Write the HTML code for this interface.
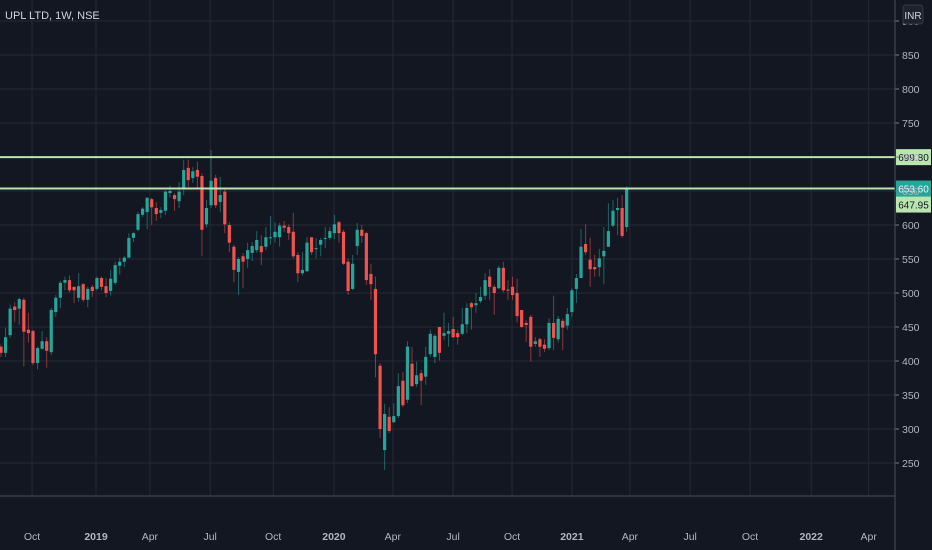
<!DOCTYPE html>
<html><head><meta charset="utf-8"><style>
html,body{margin:0;padding:0;background:#131722;}
svg{display:block;font-family:"Liberation Sans",sans-serif;}
</style></head><body>
<svg id="chart" width="932" height="550" xmlns="http://www.w3.org/2000/svg">
<rect x="0" y="0" width="932" height="550" fill="#131722"/>
<g id="grid"></g>
<g id="candles"></g>
<g id="levels"></g>
<g id="axes"></g>
<text x="5" y="19" fill="#d1d4dc" font-size="11">UPL LTD, 1W, NSE</text>
<g><rect x="903" y="5" width="20" height="19" rx="3" fill="#1e222d" stroke="#363a45"/><text x="913" y="19" fill="#d1d4dc" font-size="10" text-anchor="middle">INR</text></g>
</svg>
<script>
const opens=[421,412,438,480,477,490,446,444,397,418,429,413,472,493,515,519,509,493,513,490,509,506,522,510,503,515,540,546,552,581,593,615,619,638,625,618,621,647,644,635,653,684,669,681,672,601,629,669,634,649,600,568,531,554,550,559,563,569,568,581,582,582,599,597,590,556,529,532,582,565,571,580,581,588,604,590,546,506,569,593,588,528,506,393,269,318,310,319,371,343,396,366,382,377,410,406,450,437,440,447,441,440,454,485,482,488,496,524,509,507,537,505,509,500,475,456,465,425,432,424,419,456,432,459,452,472,506,522,572,549,538,538,554,568,599,622,625,597];
const closes=[412,435,477,475,491,443,441,397,419,429,415,475,493,515,519,504,504,510,490,506,503,522,509,500,521,541,546,552,581,588,616,624,640,626,616,622,649,650,638,649,681,666,679,671,593,625,665,629,644,601,574,534,550,546,563,569,578,560,582,582,590,599,596,588,554,529,534,574,560,566,578,581,591,601,588,543,503,543,593,584,519,513,410,300,322,297,319,363,335,421,363,379,371,406,440,437,412,441,444,435,435,454,478,479,485,494,519,509,500,537,504,504,497,466,450,453,421,429,421,418,456,434,462,449,469,504,522,568,560,535,535,551,562,591,621,625,584,653.6];
const highs=[424,449,483,486,493,493,471,446,421,444,435,478,497,518,524,526,509,529,515,509,512,524,524,522,534,546,552,554,588,590,619,626,641,640,634,626,651,658,647,663,696,696,685,693,676,637,710,674,671,654,604,571,553,559,574,575,591,585,597,613,604,603,606,601,618,560,560,582,582,581,581,597,597,615,606,593,551,556,603,600,590,543,524,397,337,332,338,382,384,429,421,399,387,421,446,440,450,471,456,465,446,478,485,487,500,509,529,535,512,540,546,519,524,521,475,460,468,435,434,432,463,496,466,462,478,507,528,594,601,581,556,565,597,632,637,640,644,657];
const lows=[406,406,434,457,453,392,427,394,388,416,390,409,465,478,504,501,485,487,487,479,494,504,504,494,496,512,527,538,552,575,591,612,594,600,606,610,615,640,621,625,644,656,662,654,554,596,625,625,619,588,560,516,497,507,537,547,559,541,563,571,574,568,590,578,551,516,526,531,556,551,554,566,578,579,574,541,497,504,556,574,512,490,376,287,240,294,309,316,332,338,362,362,335,365,406,397,401,431,421,434,424,438,441,446,471,485,490,490,468,506,501,490,490,457,449,428,399,421,406,413,416,416,427,416,446,465,485,522,556,509,524,524,513,568,597,585,581,590];
const priceTicks=[250,300,350,400,450,500,550,600,650,700,750,800,850,900];
const timeTickLabels=["Oct","2019","Apr","Jul","Oct","2020","Apr","Jul","Oct","2021","Apr","Jul","Oct","2022","Apr"];
const timeTickWeeks=[6.8,20.8,32.6,45.8,59.6,72.9,85.8,99,111.9,125,137.7,150.9,164,177.4,190];
const levelPrices=[699.80,653.60,647.95];

const NS="http://www.w3.org/2000/svg";
const PLOT_RIGHT=895, PLOT_BOTTOM=496;
function xScale(i){return 1+i*4.567;}
function yScale(p){return 225-(p-600)*0.68;}
function mk(tag,attrs,parent){const e=document.createElementNS(NS,tag);for(const k in attrs)e.setAttribute(k,attrs[k]);parent.appendChild(e);return e;}
const grid=document.getElementById('grid'),cg=document.getElementById('candles'),lv=document.getElementById('levels'),ax=document.getElementById('axes');

priceTicks.forEach(p=>{
  const y=yScale(p);
  const l=mk('line',{x1:0,x2:PLOT_RIGHT,y1:y,y2:y,stroke:'#262a35','stroke-width':1},grid);
  
  
  const t=mk('line',{x1:PLOT_RIGHT,x2:PLOT_RIGHT+4,y1:y,y2:y,stroke:'#787b86'},ax);
  
  
  const tx=mk('text',{x:902,y:y+4,fill:'#b2b5be','font-size':10.5},ax);
  tx.textContent=p;
  
  
});
timeTickWeeks.forEach((w,k)=>{
  const x=xScale(w);
  const l=mk('line',{x1:x,x2:x,y1:0,y2:PLOT_BOTTOM,stroke:'#262a35','stroke-width':1},grid);
  
  
  const lab=timeTickLabels[k];
  const tx=mk('text',{x:x,y:540,fill:'#b2b5be','font-size':10.5,'text-anchor':'middle','font-weight':/^\d+$/.test(lab)?'bold':'normal'},ax);
  tx.textContent=lab;
  
  
});
const bl=mk('line',{x1:0,x2:PLOT_RIGHT,y1:PLOT_BOTTOM,y2:PLOT_BOTTOM,stroke:'#4a4e59'},ax);


const vl=mk('line',{x1:PLOT_RIGHT,x2:PLOT_RIGHT,y1:0,y2:550,stroke:'#4a4e59'},ax);



for(let i=0;i<opens.length;i++){
  const up=closes[i]>=opens[i];
  const col=up?'#26a69a':'#ef5350';
  const x=xScale(i);
  const g=mk('g',{},cg);
  
  
  mk('line',{x1:x,x2:x,y1:yScale(highs[i]),y2:yScale(lows[i]),stroke:col,'stroke-opacity':0.55,'stroke-width':1},g);
  const top=yScale(Math.max(opens[i],closes[i])),bot=yScale(Math.min(opens[i],closes[i]));
  mk('rect',{x:x-1.6,y:top,width:3.2,height:Math.max(1,bot-top),fill:col},g);
}

const levelStyles=[{bg:'#b9e6b0',fg:'#131722'},{bg:'#26a69a',fg:'#f0f3fa'},{bg:'#b9e6b0',fg:'#131722'}];
[levelPrices[0],levelPrices[1]].forEach(p=>{
  const y=yScale(p);
  const l=mk('line',{x1:0,x2:PLOT_RIGHT,y1:y,y2:y,stroke:'#b9e6b0','stroke-width':2},lv);
  
  
});
const labelY=[yScale(levelPrices[0]),yScale(levelPrices[1]),yScale(levelPrices[1])+16];
levelPrices.forEach((p,k)=>{
  const y=labelY[k];
  const g=mk('g',{},lv);
  
  
  mk('rect',{x:896,y:y-8,width:35,height:16,fill:levelStyles[k].bg},g);
  const t=mk('text',{x:913.5,y:y+4,fill:levelStyles[k].fg,'font-size':10,'text-anchor':'middle'},g);
  t.textContent=p.toFixed(2);
});
</script>
</body></html>
